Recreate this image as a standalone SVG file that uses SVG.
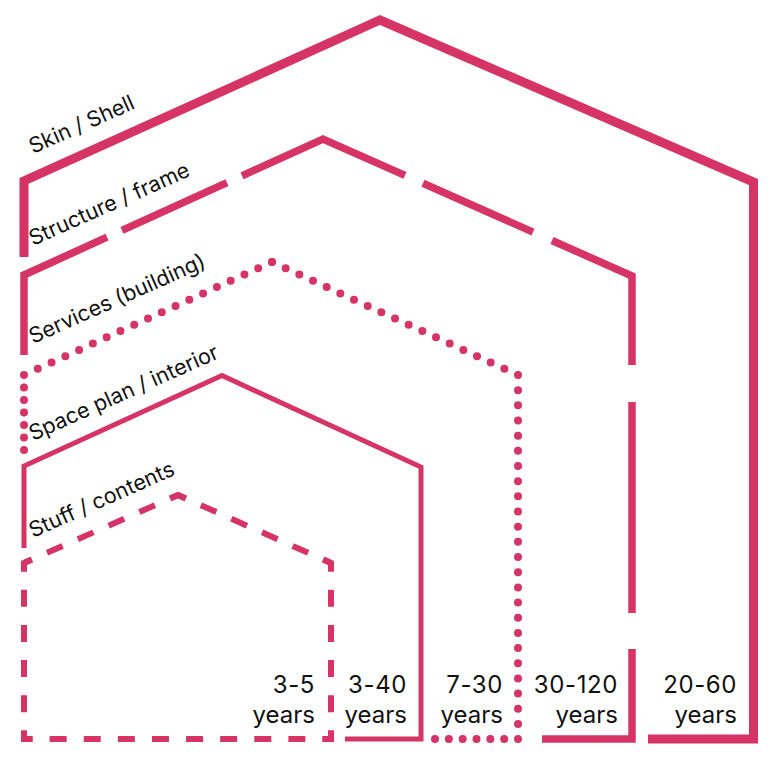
<svg xmlns="http://www.w3.org/2000/svg" width="784" height="764" viewBox="0 0 784 764">
<style>
.ln{fill:none;stroke:#d63466;stroke-linejoin:miter;stroke-linecap:butt}
.shell{stroke-width:9}
.struct{stroke-width:7.5}
.dot{stroke-width:8;stroke-linecap:round}
.space{stroke-width:5}
.stuff{stroke-width:6}
.lbl{font-family:Inter,"Liberation Sans",sans-serif;font-size:21.5px;fill:#111111}
.yr{font-family:Inter,"Liberation Sans",sans-serif;font-size:24px;fill:#111111;text-anchor:end}
.num{letter-spacing:0.6px}
</style>
<rect width="784" height="764" fill="#ffffff"/>
<g id="connectors">
</g>
<g id="shell">
<path class="ln shell" d="M24,257 V181 L380,20 L753.5,182 V739 H648"/>
<text class="lbl" transform="translate(33,154) rotate(-24)">Skin / Shell</text>
<text class="yr num" x="737" y="693">20-60</text>
<text class="yr" x="737" y="723">years</text>
</g>
<g id="structure">
<path class="ln struct" d="M24,355 V275 L107,237.2"/>
<path class="ln struct" d="M122,230.4 L227,182.7"/>
<path class="ln struct" d="M242,175.8 L323,139 L405,175.4"/>
<path class="ln struct" d="M423,183.3 L533,232.1"/>
<path class="ln struct" d="M552,240.5 L632,276 V365"/>
<path class="ln struct" d="M632,402 V613"/>
<path class="ln struct" d="M632,649 V739 H542"/>
<text class="lbl" transform="translate(33,246) rotate(-24)">Structure / frame</text>
<text class="yr num" x="618" y="693">30-120</text>
<text class="yr" x="618" y="723">years</text>
</g>
<g id="services">
<path class="ln dot" d="M24,450 V375" stroke-dasharray="0 12.5"/>
<path class="ln dot" d="M24,375 L272,262" stroke-dasharray="0 15.14"/>
<path class="ln dot" d="M272,262 L518,375" stroke-dasharray="0 15.04"/>
<path class="ln dot" d="M518,375 V739" stroke-dasharray="0 15.17"/>
<path class="ln dot" d="M518,739 H435" stroke-dasharray="0 13.83"/>
<text class="lbl" transform="translate(33,344) rotate(-24)">Services (building)</text>
<text class="yr num" x="503" y="693">7-30</text>
<text class="yr" x="503" y="723">years</text>
</g>
<g id="space-plan">
<path class="ln space" d="M24,548 V466 L222,375.5 L421,467 V739 H345"/>
<text class="lbl" transform="translate(33,441) rotate(-24)">Space plan / interior</text>
<text class="yr num" x="407" y="693">3-40</text>
<text class="yr" x="407" y="723">years</text>
</g>
<g id="stuff">
<path class="ln stuff" d="M24,739 V563" stroke-dasharray="17 18.2" stroke-dashoffset="8.5"/>
<path class="ln stuff" d="M24,563 L178,495" stroke-dasharray="17 16.66" stroke-dashoffset="8.5"/>
<path class="ln stuff" d="M178,495 L331,563" stroke-dasharray="17 16.48" stroke-dashoffset="8.5"/>
<path class="ln stuff" d="M331,563 V739" stroke-dasharray="17 18.2" stroke-dashoffset="8.5"/>
<path class="ln stuff" d="M331,739 H24" stroke-dasharray="17 17.11" stroke-dashoffset="8.5"/>
<path class="ln stuff" d="M24,730.5 V739 H32.5"/>
<path class="ln stuff" d="M24,571.5 V563 L31.8,559.6"/>
<path class="ln stuff" d="M170.2,498.4 L178,495 L185.8,498.5"/>
<path class="ln stuff" d="M323.2,559.5 L331,563 V571.5"/>
<path class="ln stuff" d="M331,730.5 V739 H322.5"/>
<text class="lbl" transform="translate(33,538) rotate(-24)">Stuff / contents</text>
<text class="yr num" x="315" y="693">3-5</text>
<text class="yr" x="315" y="723">years</text>
</g>
</svg>
